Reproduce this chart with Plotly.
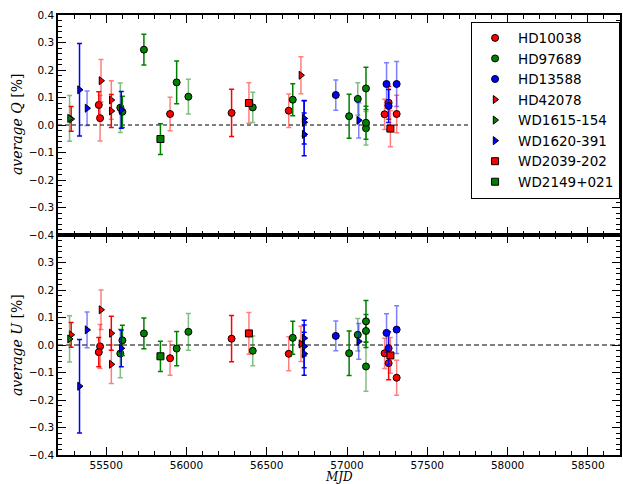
import plotly.graph_objects as go

# ---- data ----
stars = ["HD10038", "HD97689", "HD13588", "HD42078",
         "WD1615-154", "WD1620-391", "WD2039-202", "WD2149+021"]

# per star: MJD, Q, Q error, U, U error, light(1)/dark(0) error bar
HD10038_mjd = [55454, 55462, 55898, 56281, 56637, 57234, 57259, 57309]
HD10038_q   = [0.073, 0.025, 0.040, 0.044, 0.052, 0.039, 0.081, 0.040]
HD10038_qe  = [0.048, 0.083, 0.061, 0.086, 0.061, 0.055, 0.060, 0.068]
HD10038_u   = [-0.026, -0.005, -0.048, 0.023, -0.032, -0.030, -0.066, -0.119]
HD10038_ue  = [0.053, 0.080, 0.062, 0.084, 0.062, 0.055, 0.060, 0.064]
HD10038_lt  = [0, 1, 1, 0, 1, 1, 0, 1]

HD97689_mjd = [55588, 55601, 55735, 55939, 56012, 56413, 56662, 57013, 57067, 57118, 57118, 57118]
HD97689_q   = [0.063, 0.048, 0.274, 0.155, 0.103, 0.064, 0.092, 0.032, 0.095, 0.133, 0.008, -0.012]
HD97689_qe  = [0.090, 0.057, 0.056, 0.078, 0.063, 0.055, 0.058, 0.080, 0.059, 0.077, 0.060, 0.061]
HD97689_u   = [-0.031, 0.017, 0.042, -0.013, 0.048, -0.021, 0.026, -0.030, 0.037, 0.086, 0.051, -0.078]
HD97689_ue  = [0.088, 0.055, 0.056, 0.062, 0.067, 0.054, 0.060, 0.081, 0.059, 0.076, 0.060, 0.090]
HD97689_lt  = [1, 0, 0, 0, 1, 1, 0, 0, 1, 0, 0, 1]

HD13588_mjd = [56930, 57246, 57259, 57309]
HD13588_q   = [0.109, 0.149, 0.069, 0.149]
HD13588_qe  = [0.055, 0.077, 0.060, 0.082]
HD13588_u   = [0.033, 0.044, -0.012, 0.056]
HD13588_ue  = [0.054, 0.070, 0.060, 0.087]
HD13588_lt  = [1, 1, 0, 1]

HD42078_mjd = [55282, 55468, 55532, 55532, 56713]
HD42078_q   = [0.022, 0.161, 0.091, 0.051, 0.181]
HD42078_qe  = [0.045, 0.077, 0.070, 0.060, 0.067]
HD42078_u   = [0.037, 0.128, -0.070, 0.043, 0.004]
HD42078_ue  = [0.045, 0.072, 0.070, 0.062, 0.064]
HD42078_lt  = [0, 1, 1, 0, 1]

WD1615_mjd = [55272]
WD1615_q   = [0.024]
WD1615_qe  = [0.083]
WD1615_u   = [0.022]
WD1615_ue  = [0.084]
WD1615_lt  = [1]

WD1620_mjd = [55334, 55381, 55594, 56733, 56733, 56733, 57073]
WD1620_q   = [0.128, 0.061, 0.055, 0.024, 0.010, -0.034, 0.017]
WD1620_qe  = [0.168, 0.063, 0.067, 0.064, 0.079, 0.078, 0.064]
WD1620_u   = [-0.150, 0.055, -0.012, 0.025, -0.005, -0.032, 0.013]
WD1620_ue  = [0.170, 0.065, 0.067, 0.065, 0.078, 0.078, 0.065]
WD1620_lt  = [0, 1, 0, 0, 0, 0, 1]

WD2039_mjd = [56389, 57270]
WD2039_q   = [0.080, -0.013]
WD2039_qe  = [0.074, 0.066]
WD2039_u   = [0.042, -0.038]
WD2039_ue  = [0.076, 0.065]
WD2039_lt  = [1, 1]

WD2149_mjd = [55838]
WD2149_q   = [-0.051]
WD2149_qe  = [0.056]
WD2149_u   = [-0.041]
WD2149_ue  = [0.055]
WD2149_lt  = [0]

x_ticks = [55500, 56000, 56500, 57000, 57500, 58000, 58500]
q_ticks = [0.4, 0.3, 0.2, 0.1, 0.0, -0.1, -0.2, -0.3, -0.4]
u_ticks = [0.3, 0.2, 0.1, 0.0, -0.1, -0.2, -0.3, -0.4]

# ---- styles ----
colors = {"r": (255, 0, 0), "g": (0, 128, 0), "b": (0, 0, 255)}
style = {
    "HD10038": ("r", "circle", 7),
    "HD97689": ("g", "circle", 7),
    "HD13588": ("b", "circle", 7),
    "HD42078": ("r", "triangle-right", 7),
    "WD1615-154": ("g", "triangle-right", 7),
    "WD1620-391": ("b", "triangle-right", 7),
    "WD2039-202": ("r", "square", 7),
    "WD2149+021": ("g", "square", 7),
}
data = {
    "HD10038": (HD10038_mjd, HD10038_q, HD10038_qe, HD10038_u, HD10038_ue, HD10038_lt),
    "HD97689": (HD97689_mjd, HD97689_q, HD97689_qe, HD97689_u, HD97689_ue, HD97689_lt),
    "HD13588": (HD13588_mjd, HD13588_q, HD13588_qe, HD13588_u, HD13588_ue, HD13588_lt),
    "HD42078": (HD42078_mjd, HD42078_q, HD42078_qe, HD42078_u, HD42078_ue, HD42078_lt),
    "WD1615-154": (WD1615_mjd, WD1615_q, WD1615_qe, WD1615_u, WD1615_ue, WD1615_lt),
    "WD1620-391": (WD1620_mjd, WD1620_q, WD1620_qe, WD1620_u, WD1620_ue, WD1620_lt),
    "WD2039-202": (WD2039_mjd, WD2039_q, WD2039_qe, WD2039_u, WD2039_ue, WD2039_lt),
    "WD2149+021": (WD2149_mjd, WD2149_q, WD2149_qe, WD2149_u, WD2149_ue, WD2149_lt),
}

fig = go.Figure()

for name in stars:
    mjd, q, qe, u, ue, lt = data[name]
    ck, sym, sz = style[name]
    r, g, b = colors[ck]
    fill = f"rgb({r},{g},{b})"
    first = True
    for light in (1, 0):
        idx = [i for i in range(len(mjd)) if lt[i] == light]
        if not idx:
            continue
        ecol = f"rgba({r},{g},{b},{0.5 if light else 1})"
        for yv, ye, yax in ((q, qe, "y"), (u, ue, "y2")):
            fig.add_trace(go.Scatter(
                x=[mjd[i] for i in idx], y=[yv[i] for i in idx],
                error_y=dict(type="data", array=[ye[i] for i in idx],
                             color=ecol, thickness=1.5, width=2.5),
                mode="markers",
                marker=dict(symbol=sym, size=sz, color=fill,
                            line=dict(color="black", width=1)),
                name=name, legendgroup=name,
                showlegend=(first and yax == "y"),
                xaxis="x", yaxis=yax,
            ))
        first = False

axis_common = dict(
    showgrid=False, zeroline=False, showline=True, linecolor="black",
    linewidth=1.5, mirror="ticks", ticks="inside", ticklen=8, tickwidth=1.2,
    tickcolor="black", tickfont=dict(family="DejaVu Sans", size=10.5, color="black"),
)

fig.update_layout(
    width=623, height=484,
    margin=dict(l=58, r=1, t=15, b=29),
    paper_bgcolor="white", plot_bgcolor="white",
    xaxis=dict(axis_common, range=[55200, 58700], tickvals=x_ticks,
               tickformat="d", anchor="y2", domain=[0, 1],
               minor=dict(dtick=100, tick0=55200, ticks="inside", ticklen=4,
                          tickcolor="black", tickwidth=1)),
    xaxis2=dict(axis_common, range=[55200, 58700], tickvals=x_ticks,
                anchor="y", matches="x", showticklabels=False, overlaying="x",
                minor=dict(dtick=100, tick0=55200, ticks="inside", ticklen=4,
                           tickcolor="black", tickwidth=1)),
    yaxis=dict(axis_common, range=[-0.4, 0.4], domain=[0.5, 1], anchor="x2",
               tickvals=q_ticks, tickformat=".1f",
               minor=dict(dtick=0.02, tick0=0, ticks="inside", ticklen=4,
                          tickcolor="black", tickwidth=1)),
    yaxis2=dict(axis_common, range=[-0.4, 0.4], domain=[0, 0.5], anchor="x",
                tickvals=u_ticks, tickformat=".1f",
                minor=dict(dtick=0.02, tick0=0, ticks="inside", ticklen=4,
                           tickcolor="black", tickwidth=1)),
    legend=dict(x=0.735, y=0.985, xanchor="left", yanchor="top",
                bordercolor="black", borderwidth=1, bgcolor="white",
                font=dict(family="DejaVu Sans", size=13.5, color="black"),
                itemwidth=36, tracegroupgap=0),
    showlegend=True,
)

# dummy trace to activate the top panel's x axis
fig.add_trace(go.Scatter(x=[None], y=[None], xaxis="x2", yaxis="y",
                         showlegend=False, hoverinfo="skip"))

fig.add_shape(type="line", xref="x domain", x0=0, x1=1, yref="y", y0=0, y1=0,
              line=dict(color="black", width=1, dash="4px,3px"), layer="below")
fig.add_shape(type="line", xref="x domain", x0=0, x1=1, yref="y2", y0=0, y1=0,
              line=dict(color="#7f7f7f", width=2, dash="5px,3px"), layer="below")

serif = dict(family="DejaVu Serif", size=14, color="black")
fig.add_annotation(text="<i>average Q</i> [%]", xref="paper", yref="paper",
                   x=0, y=0.75, xshift=-41, textangle=-90, showarrow=False,
                   font=serif, xanchor="center", yanchor="middle")
fig.add_annotation(text="<i>average U</i> [%]", xref="paper", yref="paper",
                   x=0, y=0.25, xshift=-41, textangle=-90, showarrow=False,
                   font=serif, xanchor="center", yanchor="middle")
fig.add_annotation(text="<i>MJD</i>", xref="paper", yref="paper",
                   x=0.5, y=0, yshift=-13, showarrow=False,
                   font=dict(family="DejaVu Serif", size=12, color="black"),
                   xanchor="center", yanchor="top")

fig.write_html("out.html")
